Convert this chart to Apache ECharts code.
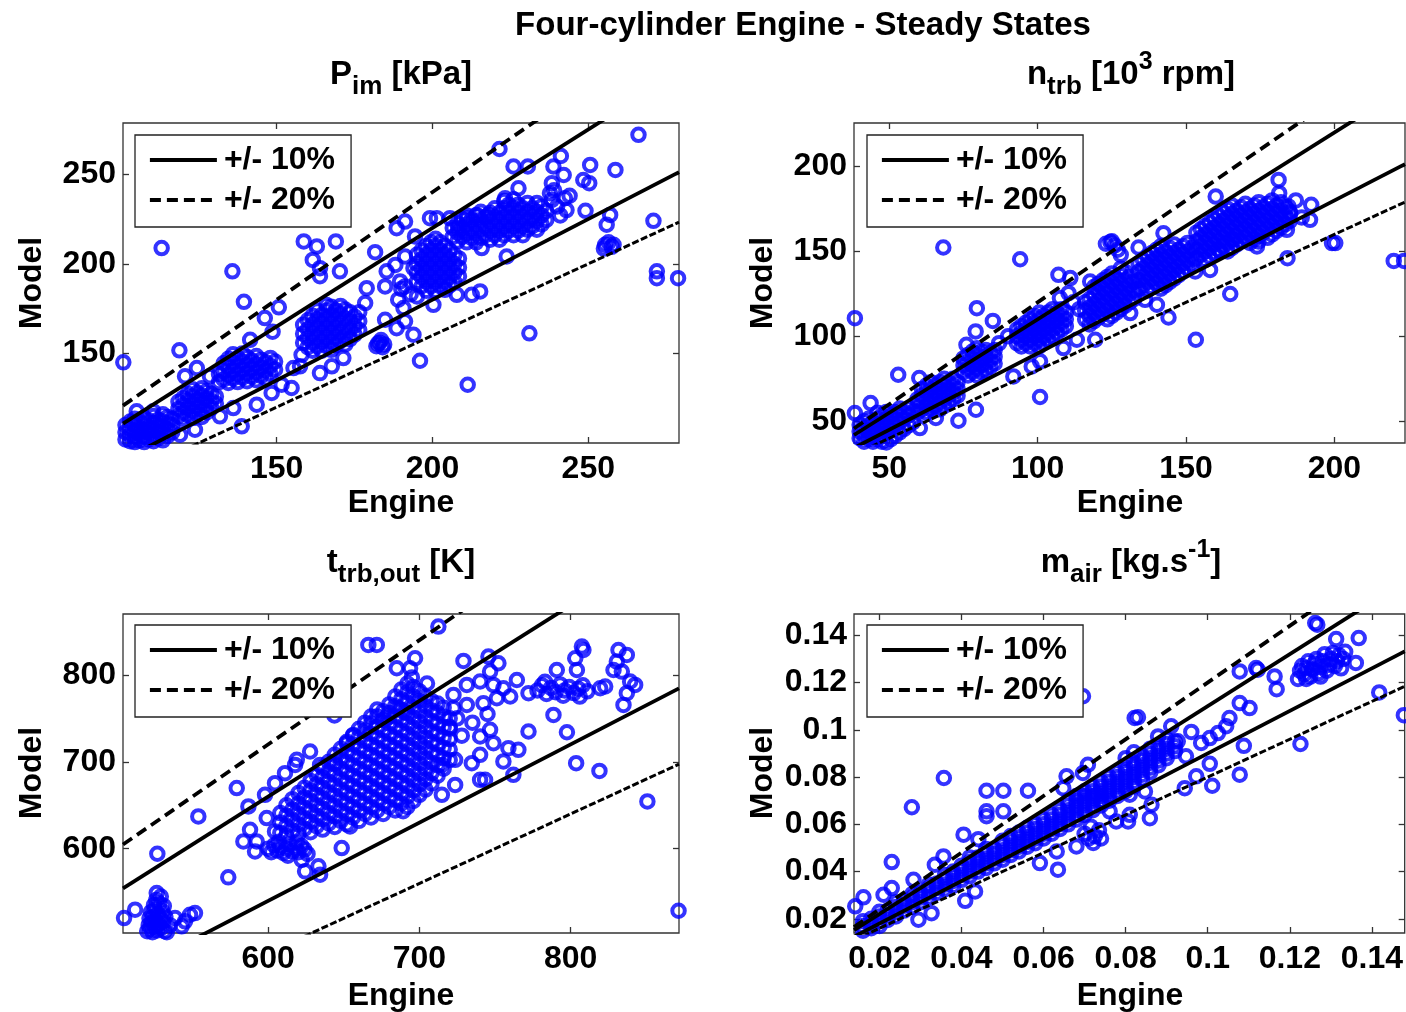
<!DOCTYPE html>
<html>
<head>
<meta charset="utf-8">
<script src="https://cdn.jsdelivr.net/npm/echarts@6/dist/echarts.min.js"></script>
<style>
  html, body { margin: 0; padding: 0; background: #fff; }
  #chart { width: 1406px; height: 1012px; }
</style>
</head>
<body>
<div id="chart"></div>
<script>
const FONT = '"Liberation Sans", Arial, Helvetica, sans-serif';

// ---------- P_im [kPa] ----------
const pimRangeX = [100.7, 279.1];
const pimRangeY = [100, 278.6];
const pimTicks = [150, 200, 250];
// dense groups, written as [engine, [model values...]]
const pimColumns = [
  [101.5, [102, 106, 110]], [103, [101, 104.5, 108, 112]], [104.5, [100.5, 103, 106.5, 110, 113.5]],
  [106, [101.5, 105, 108.5, 112]], [107.5, [100.5, 103.5, 107, 110.5, 114]], [109, [102, 105.5, 109, 112.5]],
  [110.5, [101, 104, 107.5, 111, 115]], [112, [102.5, 106, 109.5, 113]], [113.5, [101.5, 105, 108.5, 112, 116]],
  [115, [104, 107.5, 111, 114.5]], [116.5, [106, 110, 113.5]],
  [118.5, [115, 119, 123]], [120, [113.5, 117, 121, 125]], [121.5, [115.5, 119.5, 123.5, 127.5]],
  [123, [114, 118, 122, 126, 130]], [124.5, [116, 120, 124, 128]], [126, [114.5, 118.5, 122.5, 126.5, 130.5]],
  [127.5, [117, 121, 125, 129]], [129, [119.5, 123.5, 127.5]], [130.5, [122, 126]],
  [131.5, [134, 138.5]], [133, [135.5, 140, 144.5]], [134.5, [133.5, 138, 142.5, 147]],
  [136, [136, 140.5, 145, 149.5]], [137.5, [134, 138.5, 143, 147.5]], [139, [136.5, 141, 145.5, 150]],
  [140.5, [134.5, 139, 143.5, 148]], [142, [137, 141.5, 146]], [143.5, [135, 139.5, 144, 148.5]],
  [145, [137.5, 142, 146.5]], [146.5, [136, 140.5, 145]], [148, [138.5, 143, 147.5]], [149.5, [141, 145.5]],
  [158.5, [156, 161, 166]], [160, [153.5, 158.5, 163.5, 168.5]], [161.5, [151.5, 156, 161, 166, 171]],
  [163, [154, 159, 164, 169, 174]], [164.5, [151.5, 156.5, 161.5, 166.5, 171.5]], [166, [154, 159, 164, 169, 174, 177]],
  [167.5, [152, 156.5, 161.5, 166.5, 171.5, 176]], [169, [154.5, 159, 164, 169, 174]], [170.5, [157, 162, 167, 172, 176.5]],
  [172, [155, 159.5, 164.5, 169.5, 174.5]], [173.5, [158, 163, 168, 173]], [175, [160.5, 165.5, 170.5]], [176.5, [163, 168, 173]],
  [195, [190, 195, 200, 205]], [196.5, [187.5, 192.5, 197.5, 202.5, 207.5]], [198, [185, 190, 195, 200, 205, 210]],
  [199.5, [187.5, 192.5, 197.5, 202.5, 207.5, 212]], [201, [185, 190, 195, 200, 205, 210, 214]],
  [202.5, [187.5, 192.5, 197.5, 202.5, 207.5, 212]], [204, [185.5, 190, 195, 200, 205, 210]],
  [205.5, [188, 192.5, 197.5, 202.5, 207.5]], [207, [190, 195, 200, 205]], [208.5, [193, 198, 203]],
  [206.5, [215, 220]], [208, [212.5, 217.5, 222.5]], [209.5, [215, 220, 225]], [211, [212, 217, 222, 227]],
  [212.5, [214.5, 219.5, 224.5]], [214, [212, 217, 222, 227]], [215.5, [214.5, 219.5, 224.5, 229]],
  [217, [216, 221, 226]], [218.5, [213.5, 218.5, 223.5, 228.5]], [220, [216, 221, 226, 231]],
  [221.5, [213.5, 218.5, 223.5, 228.5]], [223, [216, 221, 226, 231, 235]], [224.5, [218.5, 223.5, 228.5, 233]],
  [226, [216, 221, 226, 231, 236]], [227.5, [218.5, 223.5, 228.5, 233]], [229, [216, 221, 226, 231]],
  [230.5, [219, 224, 229, 234]], [232, [221, 226, 231]], [233.5, [219, 224, 229, 234]],
  [235, [222, 227, 232]], [236.5, [224.5, 229.5]]
];
const pimPoints = [
  [100.8, 145], [113.1, 208.8], [135.8, 195.8], [139.5, 178.8], [118.8, 151.7], [146.2, 169.7], [150.7, 175.7],
  [148.7, 162.1], [141.5, 157.6], [105.1, 117.7], [110.4, 117.7], [119, 104.6], [123.8, 107.4],
  [131.8, 114.9], [136.1, 119.5], [138.8, 109.3], [143.6, 121.4], [148.4, 127.9], [154.8, 130.7], [151.6, 132.5],
  [155.4, 141.8], [120.6, 137.2], [124.4, 141.8], [128.6, 137.2],
  [158.7, 212.5], [162.9, 209.7], [169, 212.5], [161.6, 202.2], [163.9, 197.6], [163.9, 193.1], [170.3, 195.8],
  [181.6, 206.5], [178.9, 186.4], [178.4, 178.1], [185.3, 195.8], [184.8, 187.4], [188.1, 199.4], [189.6, 190.2],
  [188.5, 219.9], [158, 149.2], [157.5, 142.8], [163.9, 139], [167.7, 142.8], [171.4, 147.4], [184.8, 168.8],
  [188.5, 164.1], [182, 154], [183, 156], [184, 153.5], [183.5, 157.5], [182.5, 155.5], [184.5, 155],
  [189, 180], [190, 186], [193, 183], [191.2, 167.9], [193.9, 160.4], [196, 145.9], [211.3, 132.5],
  [199.2, 225.5], [201.4, 225.5], [205.6, 225.5], [208.3, 219.9], [211, 225.5], [214.2, 227.3], [218, 227.3],
  [191.2, 223.6], [194.4, 215.3], [207.8, 182.7], [212.6, 182.7], [215.3, 184.6], [200.3, 177.1], [195, 181.8],
  [215.8, 208.8], [223.8, 204.1], [231.1, 161.2], [191.2, 204.1], [193.9, 197.6], [191.2, 187.4], [190.7, 175.3],
  [221.5, 264.1], [226, 254.3], [230.6, 254.3], [241.2, 260.2], [238.8, 254.3], [242.1, 249.6], [250.6, 255.2],
  [258.7, 252.4], [266.1, 272], [248.4, 246.8], [250.3, 245], [238.3, 245], [237.7, 239.4], [242.5, 236.6],
  [238.3, 235.7], [227.6, 242.2], [223.3, 236.6], [249.1, 229.6], [257, 227.3], [255.9, 221.8], [255.4, 210.6],
  [258.1, 210.6], [256.5, 212], [257.5, 209.5], [255, 208.5], [270.9, 224], [272, 195.8], [272, 192],
  [278.8, 192], [240, 232], [243, 230], [241, 227], [244, 238], [239, 241]
];

// ---------- n_trb [10^3 rpm] ----------
const ntrbRangeX = [38.1, 223.8];
const ntrbRangeY = [37.2, 225.6];
const ntrbTicks = [50, 100, 150, 200];
const ntrbColumns = [
  [40, [40, 44, 48]], [41.5, [38, 42, 46, 50]], [43, [39.5, 43.5, 47.5, 51.5]], [44.5, [38, 41.5, 45.5, 49.5]],
  [46, [39.5, 43.5, 47.5, 51.5, 55]], [47.5, [38, 41.5, 45.5, 49.5, 53.5]], [49, [37.5, 43.5, 47.5, 51.5, 55.5]],
  [50.5, [39.5, 45.5, 49.5, 53.5]], [52, [41.5, 47.5, 51.5, 55.5]], [53.5, [43.5, 49.5, 53.5, 57.5]],
  [55, [45.5, 51.5, 55.5]], [56.5, [47.5, 53.5, 57.5]], [58, [49.5, 55.5]],
  [59.5, [55, 59, 63]], [61, [57, 61, 65, 69]], [62.5, [55, 59, 63, 67, 71]], [64, [57, 61, 65, 69, 73]],
  [65.5, [59, 63, 67, 71]], [67, [57, 61, 65, 69, 73]], [68.5, [59, 63, 67, 71, 75]], [70, [61, 65, 69, 73]],
  [71.5, [63, 67, 71, 75]], [73, [65, 69, 73]],
  [75, [79, 83, 87]], [76.5, [77, 81, 85, 89]], [78, [79, 83, 87, 91]], [79.5, [77, 81, 85, 89, 93]],
  [81, [79, 83, 87, 91]], [82.5, [80, 84, 88, 92]], [84, [82, 86, 90]], [85.5, [84, 88, 92]],
  [93, [96, 100, 104]], [94.5, [94, 98, 102, 106]], [96, [96, 100, 104, 108]], [97.5, [94, 98, 102, 106, 110]],
  [99, [96, 100, 104, 108, 112]], [100.5, [94, 98, 102, 106, 110, 114]], [102, [96, 100, 104, 108, 112]],
  [103.5, [98, 102, 106, 110, 114]], [105, [100, 104, 108, 112, 116]], [106.5, [102, 106, 110, 114]],
  [108, [104, 108, 112, 116]], [109.5, [106, 110, 114]],
  [116, [110, 115, 120]], [117.5, [107, 112, 117, 122]], [119, [109, 114, 119, 124, 129]],
  [120.5, [111, 116, 121, 126, 131]], [122, [113, 118, 123, 128, 133]], [123.5, [110, 115, 120, 125, 130, 135]],
  [125, [112, 117, 122, 127, 132, 137]], [126.5, [114, 119, 124, 129, 134]], [128, [116, 121, 126, 131, 136, 140]],
  [129.5, [118, 123, 128, 133, 138]], [131, [120, 125, 130, 135]], [132.5, [122, 127, 132]],
  [134, [128, 133, 138, 143]], [135.5, [130, 135, 140, 145]], [137, [127, 132, 137, 142, 147]],
  [138.5, [129, 134, 139, 144, 149]], [140, [131, 136, 141, 146, 151]], [141.5, [128, 133, 138, 143, 148, 153]],
  [143, [130, 135, 140, 145, 150]], [144.5, [132, 137, 142, 147, 152]], [146, [134, 139, 144, 149, 154]],
  [147.5, [136, 141, 146, 151]], [149, [138, 143, 148, 153]], [150.5, [140, 145, 150, 155]], [152, [142, 147, 152]],
  [153.5, [146, 151, 156, 161]], [155, [148, 153, 158, 163]], [156.5, [145, 150, 155, 160, 165]],
  [158, [147, 152, 157, 162, 167]], [159.5, [149, 154, 159, 164, 169]], [161, [151, 156, 161, 166, 171]],
  [162.5, [153, 158, 163, 168, 173]], [164, [150, 155, 160, 165, 170, 175]], [165.5, [152, 157, 162, 167, 172, 177]],
  [167, [154, 159, 164, 169, 174]], [168.5, [156, 161, 166, 171, 176]], [170, [158, 163, 168, 173, 178]],
  [171.5, [155, 160, 165, 170, 175]], [173, [157, 162, 167, 172, 177]], [174.5, [159, 164, 169, 174, 179]],
  [176, [161, 166, 171, 176]], [177.5, [158, 163, 168, 173, 178]], [179, [160, 165, 170, 175, 180]],
  [180.5, [162, 167, 172, 177]], [182, [164, 169, 174, 179]], [183.5, [166, 171, 176]], [185, [168, 173]]
];
const ntrbPoints = [
  [38.4, 110.7], [68.2, 152.3], [94.1, 145.4], [38.4, 54.8], [43.7, 60.7], [53, 77.4], [60.1, 75.4],
  [73.3, 50.3], [79.2, 56.8], [79.5, 116.6], [84.9, 109.1], [79.1, 102.9], [100.8, 64.3], [91.8, 76.4],
  [98, 82.3], [100.8, 85.3], [108.7, 93.1], [113.2, 98], [119.4, 98], [107, 136.2], [111, 134.3],
  [107.5, 122.5], [110.4, 125.4], [117.7, 132.3], [65.7, 51.9], [60.3, 46], [76, 95], [87, 96], [90, 100],
  [112, 120], [114, 116], [123, 154.5], [124.5, 155.5], [126, 153.5], [125, 156], [127, 151], [128, 148],
  [131.2, 113.7], [136.2, 121.5], [140.2, 118.6], [144.1, 111.1], [153.3, 98], [134, 152.3], [142.4, 160.7],
  [181.2, 192.1], [181.4, 184.3], [160, 182.3], [192.2, 177.4], [191.8, 168.6], [199.2, 154.9], [200.3, 154.9],
  [220, 144.4], [223.5, 144.4], [184.2, 146], [184, 162.7], [164.9, 124.9], [173.9, 152.9], [174.4, 155.9],
  [153.1, 138.2], [158.1, 139.1], [161.5, 150], [166, 156.8], [184.5, 176.5], [185.1, 172.5], [189, 170], [187, 180]
];

// ---------- t_trb,out [K] ----------
const ttrbRangeX = [504, 871.6];
const ttrbRangeY = [503, 870];
const ttrbTicks = [600, 700, 800];
const ttrbColumns = [
  [520, [505]], [521, [512]], [521.5, [520]], [522, [508]], [522.5, [527]], [523, [515]], [523.5, [504]],
  [524, [522]], [524.5, [535]], [525, [510, 530]], [525.5, [518]], [526, [541]], [526.3, [549]], [526.5, [506]],
  [527, [525]], [527.5, [513]], [528, [537]], [528.5, [520]], [529, [545]], [529.5, [509]], [530, [528]],
  [530.5, [516]], [531, [534]], [531.5, [505]], [532, [522]],
  [600, [600]], [602, [596]], [604, [604]], [606, [598]], [608, [602, 618, 630, 641]], [610, [595]],
  [612, [600, 615, 626, 638, 650]], [614, [605]], [616, [597, 621, 633, 645, 657]], [618, [601]],
  [620, [596, 617, 628, 640, 652, 664]], [622, [603]], [624, [599, 623, 635, 647, 659, 670]], [626, [594]],
  [628, [619, 631, 643, 655, 667, 678]], [632, [626, 638, 650, 662, 674, 685]],
  [636, [622, 634, 646, 658, 670, 682, 693]], [640, [629, 641, 653, 665, 677, 689, 700]],
  [644, [625, 637, 649, 661, 673, 685, 697, 708]], [648, [632, 644, 656, 668, 680, 692, 704, 715]],
  [652, [628, 640, 652, 664, 676, 688, 700, 712, 723]], [656, [636, 648, 660, 672, 684, 696, 708, 720, 730]],
  [660, [632, 644, 656, 668, 680, 692, 704, 716, 728, 738]], [664, [640, 652, 664, 676, 688, 700, 712, 724, 736, 745]],
  [668, [636, 648, 660, 672, 684, 696, 708, 720, 732, 744, 752]],
  [672, [644, 656, 668, 680, 692, 704, 716, 728, 740, 752, 760]],
  [676, [640, 652, 664, 676, 688, 700, 712, 724, 736, 748, 758]],
  [680, [648, 660, 672, 684, 696, 708, 720, 732, 744, 756, 766]],
  [684, [644, 656, 668, 680, 692, 704, 716, 728, 740, 752, 764, 775]],
  [688, [652, 664, 676, 688, 700, 712, 724, 736, 748, 760, 772, 783]],
  [692, [648, 660, 672, 684, 696, 708, 720, 732, 744, 756, 768, 780, 790]],
  [696, [655, 667, 679, 691, 703, 715, 727, 739, 751, 763, 775, 786]],
  [700, [662, 674, 686, 698, 710, 722, 734, 746, 758, 770, 781]],
  [704, [668, 680, 692, 704, 716, 728, 740, 752, 764, 775]],
  [708, [675, 687, 699, 711, 723, 735, 747, 759, 770]],
  [712, [684, 696, 708, 720, 732, 744, 756, 767]],
  [716, [692, 704, 716, 728, 740, 752, 762]], [720, [702, 714, 726, 738, 750]],
  [778, [782]], [781, [788]], [784, [778]], [787, [785]], [790, [780]], [793, [789]], [796, [782]],
  [799, [786]], [802, [779]], [805, [784]], [808, [788]], [811, [781]], [783, [792]], [795, [776]], [806, [775]]
];
const ttrbPoints = [
  [526.7, 594.2], [504.7, 520.2], [512, 529.8], [538.4, 520.2], [548.3, 524], [551.6, 525.9], [542.8, 510.7],
  [545, 516.4], [535, 512], [533, 504], [553.8, 637.1], [573.6, 567], [579.2, 669.7], [586.9, 648.6],
  [583.6, 608.4], [588, 621.7], [592.4, 608.4], [591.3, 596.9], [599, 635.2], [604.5, 619.9], [597.9, 662],
  [604.5, 675.4], [611.1, 686.9], [617.8, 696.4], [618.9, 702.2], [627.7, 711.8], [634.3, 696.4], [644.2, 698.4],
  [651.9, 721.4], [656.3, 730.9], [622.2, 587.2], [624.4, 573.9], [633.2, 579.7], [634.3, 570], [654.1, 625.6],
  [648.6, 600.7], [643.8, 753.2], [666.2, 834.4], [671.8, 834.4], [685, 807.6], [678.4, 750.1], [686.1, 761.6],
  [607, 608], [613, 592], [619, 607],
  [722.5, 776.9], [731.3, 788.4], [740.1, 792.3], [748.9, 788.4], [755.5, 784.6], [764.4, 794.1], [772.1, 778.9],
  [760, 775.1], [751.2, 773.1], [742.3, 767.4], [731.3, 765.4], [722.5, 761.6],
  [712.5, 855.5], [697.1, 819.1], [693.8, 807.6], [729.1, 816], [745.6, 821], [752.2, 813.3], [746.7, 803.8],
  [807.4, 832.5], [808.4, 828.6], [803, 819.1], [804.1, 805.6], [831.6, 828.6], [837.1, 822.9], [830.5, 815.3],
  [828.3, 805.6], [833.8, 803.8], [839.3, 792.3], [842.6, 788.4], [837.1, 778.9], [834.9, 765.4], [819.5, 784.6],
  [822.8, 786.6], [790.8, 805.6], [788.6, 753.9], [797.5, 734], [803.6, 698.4], [819, 689.5], [850.7, 654.4],
  [871.3, 528.6], [746.7, 736.7], [748.9, 721.4], [740.1, 729.1], [740.1, 708], [734.6, 698.4], [723.6, 702.2],
  [714.8, 696.4], [723.6, 673.4], [714.8, 662], [758.8, 715.6], [765.4, 713.7], [755.5, 700.4], [762.1, 685],
  [740.1, 679.2], [743.4, 679.2], [772.1, 734.8], [689.2, 643.2],
  [725, 750], [735, 745], [745, 755], [720, 740], [728, 730], [690, 757], [695, 797], [705, 790]
];

// ---------- m_air [kg.s^-1] ----------
const mairRangeX = [0.0138, 0.148];
const mairRangeY = [0.0140, 0.149];
const mairTicks = [0.02, 0.04, 0.06, 0.08, 0.1, 0.12, 0.14];
const mairColumns = [
  [0.016, [0.0150, 0.0170, 0.0190]], [0.018, [0.0160, 0.0180, 0.0200]], [0.020, [0.0170, 0.0190, 0.0210, 0.0230]],
  [0.022, [0.0195, 0.0215, 0.0235]], [0.024, [0.0210, 0.0230, 0.0250, 0.0270]], [0.026, [0.0235, 0.0255, 0.0275]],
  [0.028, [0.0250, 0.0270, 0.0290, 0.0305]], [0.030, [0.0270, 0.0290, 0.0310]],
  [0.032, [0.0290, 0.0310, 0.0330, 0.0345]], [0.034, [0.0310, 0.0330, 0.0350]],
  [0.036, [0.0325, 0.0345, 0.0365, 0.0385]], [0.038, [0.0340, 0.0360, 0.0380, 0.0400]],
  [0.040, [0.0365, 0.0385, 0.0405, 0.0425]], [0.042, [0.0380, 0.0400, 0.0420, 0.0440, 0.0460]],
  [0.044, [0.0400, 0.0420, 0.0440, 0.0460]], [0.046, [0.0415, 0.0435, 0.0455, 0.0475, 0.0495]],
  [0.048, [0.0435, 0.0455, 0.0475, 0.0495]], [0.050, [0.0450, 0.0470, 0.0490, 0.0510, 0.0530]],
  [0.052, [0.0470, 0.0490, 0.0510, 0.0530, 0.0550]], [0.054, [0.0485, 0.0505, 0.0525, 0.0545, 0.0565]],
  [0.056, [0.0505, 0.0525, 0.0545, 0.0565, 0.0585]], [0.058, [0.0520, 0.0540, 0.0560, 0.0580, 0.0600]],
  [0.060, [0.0540, 0.0560, 0.0580, 0.0600, 0.0620]], [0.062, [0.0560, 0.0580, 0.0600, 0.0620, 0.0640]],
  [0.064, [0.0580, 0.0600, 0.0620, 0.0640, 0.0660]], [0.066, [0.0600, 0.0620, 0.0640, 0.0660, 0.0680, 0.0700]],
  [0.068, [0.0620, 0.0640, 0.0660, 0.0680, 0.0700, 0.0720]], [0.070, [0.0640, 0.0660, 0.0680, 0.0700, 0.0720, 0.0740]],
  [0.072, [0.0660, 0.0680, 0.0700, 0.0720, 0.0740, 0.0760]], [0.074, [0.0680, 0.0700, 0.0720, 0.0740, 0.0760, 0.0780]],
  [0.076, [0.0700, 0.0720, 0.0740, 0.0760, 0.0780, 0.0800]], [0.078, [0.0720, 0.0740, 0.0760, 0.0780, 0.0800, 0.0820]],
  [0.080, [0.0740, 0.0760, 0.0780, 0.0800, 0.0820, 0.0840, 0.0880]], [0.082, [0.0760, 0.0780, 0.0800, 0.0820, 0.0840, 0.0860, 0.0905]],
  [0.084, [0.0790, 0.0810, 0.0830, 0.0850, 0.0870, 0.0890]], [0.086, [0.0820, 0.0840, 0.0860, 0.0880, 0.0900, 0.0920]],
  [0.088, [0.0850, 0.0870, 0.0890, 0.0910, 0.0930]], [0.090, [0.0880, 0.0900, 0.0920, 0.0940, 0.0960]],
  [0.092, [0.0910, 0.0930, 0.0950]],
  [0.0700, [0.0560]], [0.0710, [0.0540]], [0.0725, [0.0550]], [0.0735, [0.0575]], [0.0740, [0.0540]], [0.0715, [0.0590]],
  [0.1220, [0.1215]], [0.1225, [0.1250]], [0.1230, [0.1270]], [0.1235, [0.1235]], [0.1240, [0.1260, 0.1215]],
  [0.1245, [0.1290]], [0.1250, [0.1225]], [0.1255, [0.1255]], [0.1260, [0.1280]], [0.1265, [0.1300]],
  [0.1270, [0.1240]], [0.1275, [0.1265, 0.1225]], [0.1280, [0.1290]], [0.1285, [0.1320]], [0.1290, [0.1250]],
  [0.1295, [0.1275]], [0.1300, [0.1300]], [0.1305, [0.1325]], [0.1310, [0.1270]], [0.1315, [0.1290]],
  [0.1320, [0.1315]], [0.1325, [0.1260]], [0.1330, [0.1300]], [0.1335, [0.1330]]
];
const mairPoints = [
  [0.0696, 0.1142], [0.0822, 0.1050], [0.0357, 0.0796], [0.0279, 0.0672], [0.0230, 0.0440], [0.0141, 0.0253],
  [0.0161, 0.0291], [0.0461, 0.0742], [0.0502, 0.0742], [0.0562, 0.0742], [0.0461, 0.0655], [0.0461, 0.0634],
  [0.0502, 0.0655], [0.0405, 0.0556], [0.0441, 0.0537], [0.0335, 0.0429], [0.0356, 0.0464], [0.0283, 0.0365],
  [0.0230, 0.0330], [0.0210, 0.0302], [0.0409, 0.0276], [0.0433, 0.0316], [0.0295, 0.0196], [0.0327, 0.0224],
  [0.0635, 0.0408], [0.0591, 0.0436], [0.0632, 0.0485], [0.0680, 0.0506], [0.0721, 0.0521], [0.0777, 0.0612],
  [0.0761, 0.0655], [0.0810, 0.0640], [0.0656, 0.0803], [0.0696, 0.0817], [0.0708, 0.0852], [0.0648, 0.0753],
  [0.0689, 0.0725], [0.0729, 0.0725], [0.0745, 0.0697],
  [0.1262, 0.1452], [0.1267, 0.1445], [0.1313, 0.1384], [0.1368, 0.1388], [0.1361, 0.1283], [0.1078, 0.1247],
  [0.1118, 0.1261], [0.1122, 0.1254], [0.1163, 0.1226], [0.1168, 0.1172], [0.1078, 0.1113], [0.1102, 0.1092],
  [0.1418, 0.1158], [0.1478, 0.1062], [0.1226, 0.0940], [0.1088, 0.0932], [0.1078, 0.0810], [0.1011, 0.0763],
  [0.1005, 0.0856], [0.0972, 0.0803], [0.0944, 0.0753], [0.1053, 0.1050], [0.1045, 0.1015], [0.1025, 0.0986],
  [0.1005, 0.0965], [0.0984, 0.0944], [0.0960, 0.0991], [0.0927, 0.0951], [0.0947, 0.0888], [0.0911, 0.1015],
  [0.0879, 0.0972], [0.0830, 0.1053], [0.0859, 0.0626], [0.0863, 0.0683], [0.0847, 0.0739], [0.0810, 0.0725],
  [0.0806, 0.0612]
];

// tolerance bands drawn as Model = k * Engine
const tenPercent = [1.1, 0.9];
const twentyPercent = [1.2, 0.8];

// ---------- layout ----------
const panels = [
  { cols: pimColumns, pts: pimPoints, rx: pimRangeX, ry: pimRangeY, tx: pimTicks, ty: pimTicks,
    grid: { left: 123, top: 123, width: 556, height: 320 }, legend: [135, 135],
    title: [[ 'P', 'm' ], [ 'im', 'sub' ], [ ' [kPa]', 'm' ]], tpos: [401, 75], model: [32, 283], engine: [401, 503] },
  { cols: ntrbColumns, pts: ntrbPoints, rx: ntrbRangeX, ry: ntrbRangeY, tx: ntrbTicks, ty: ntrbTicks,
    grid: { left: 854, top: 123, width: 551, height: 320 }, legend: [867, 135],
    title: [[ 'n', 'm' ], [ 'trb', 'sub' ], [ ' [10', 'm' ], [ '3', 'sup' ], [ ' rpm]', 'm' ]], tpos: [1131, 75], model: [763, 283], engine: [1130, 503] },
  { cols: ttrbColumns, pts: ttrbPoints, rx: ttrbRangeX, ry: ttrbRangeY, tx: ttrbTicks, ty: ttrbTicks,
    grid: { left: 123, top: 614, width: 556, height: 319 }, legend: [135, 625],
    title: [[ 't', 'm' ], [ 'trb,out', 'sub' ], [ ' [K]', 'm' ]], tpos: [401, 563], model: [32, 773], engine: [401, 996] },
  { cols: mairColumns, pts: mairPoints, rx: mairRangeX, ry: mairRangeY, tx: mairTicks, ty: mairTicks,
    grid: { left: 854, top: 614, width: 551, height: 319 }, legend: [867, 625],
    title: [[ 'm', 'm' ], [ 'air', 'sub' ], [ ' [kg.s', 'm' ], [ '-1', 'sup' ], [ ']', 'm' ]], tpos: [1131, 563], model: [763, 773], engine: [1130, 996] }
];

const AXIS_COLOR = '#333';
const labelStyle = { color: '#000', fontSize: 32, fontWeight: 'bold', fontFamily: FONT };

function flatten(cols, pts) {
  const out = [];
  cols.forEach(([x, ys]) => ys.forEach(y => out.push([x, y])));
  return out.concat(pts);
}
function bandLine(range, k) {
  return [[range[0], k * range[0]], [range[1], k * range[1]]];
}

const meas = document.createElement('canvas').getContext('2d');
const TSIZE = { m: 33, sub: 26, sup: 25 };
const TSHIFT = { m: 0, sub: 12, sup: -13 };
function textWidth(t, size) {
  meas.font = 'bold ' + size + 'px ' + FONT;
  return meas.measureText(t).width;
}
function titleParts(parts, cx, cy) {
  const total = parts.reduce((s, [t, k]) => s + textWidth(t, TSIZE[k]), 0);
  let x = cx - total / 2;
  return parts.map(([t, k]) => {
    const el = { type: 'text', x: x, y: cy + TSHIFT[k], silent: true,
      style: { text: t, fontSize: TSIZE[k], fontWeight: 'bold', fontFamily: FONT, fill: '#000', align: 'left', verticalAlign: 'middle' } };
    x += textWidth(t, TSIZE[k]);
    return el;
  });
}
function plainText(t, x, y, size, rot) {
  return { type: 'text', x: x, y: y, rotation: rot || 0, silent: true,
    style: { text: t, fontSize: size, fontWeight: 'bold', fontFamily: FONT, fill: '#000', align: 'center', verticalAlign: 'middle' } };
}

const grids = [], xAxes = [], yAxes = [], series = [], legends = [];
let graphics = [plainText('Four-cylinder Engine - Steady States', 803, 26, 33)];

panels.forEach((p, i) => {
  grids.push(Object.assign({ show: true, borderColor: AXIS_COLOR, borderWidth: 1.3, backgroundColor: 'transparent' }, p.grid));
  const tickStyle = { inside: true, length: 6, lineStyle: { color: AXIS_COLOR, width: 1.3 } };
  ['bottom', 'top'].forEach((pos, j) => {
    xAxes.push({ type: 'value', gridIndex: i, position: pos, min: p.rx[0], max: p.rx[1],
      axisLine: { show: false }, splitLine: { show: false },
      axisTick: Object.assign({ customValues: p.tx }, tickStyle),
      axisLabel: Object.assign({ show: j === 0, customValues: p.tx, margin: 10, formatter: v => String(v) }, labelStyle) });
  });
  ['left', 'right'].forEach((pos, j) => {
    yAxes.push({ type: 'value', gridIndex: i, position: pos, min: p.ry[0], max: p.ry[1],
      axisLine: { show: false }, splitLine: { show: false },
      axisTick: Object.assign({ customValues: p.ty }, tickStyle),
      axisLabel: Object.assign({ show: j === 0, customValues: p.ty, margin: 7, formatter: v => String(v) }, labelStyle) });
  });
  const xi = 2 * i, yi = 2 * i;
  series.push({ type: 'scatter', xAxisIndex: xi, yAxisIndex: yi, data: flatten(p.cols, p.pts),
    symbol: 'circle', symbolSize: 12.5, silent: true, z: 2,
    itemStyle: { color: 'rgba(0,0,0,0)', borderColor: '#0000ff', borderWidth: 4 } });
  tenPercent.forEach(k => series.push({ type: 'line', name: '+/- 10%', xAxisIndex: xi, yAxisIndex: yi,
    data: bandLine(p.rx, k), symbol: 'none', silent: true, z: 3,
    lineStyle: { color: '#000', width: 3.8, type: 'solid' } }));
  twentyPercent.forEach((k, j) => series.push({ type: 'line', name: '+/- 20%', xAxisIndex: xi, yAxisIndex: yi,
    data: bandLine(p.rx, k), symbol: 'none', silent: true, z: 3,
    lineStyle: { color: '#000', width: j === 0 ? 3.8 : 3, type: j === 0 ? [11, 6] : [7, 2.5] } }));
  legends.push({ data: ['+/- 10%', '+/- 20%'], orient: 'vertical', left: p.legend[0], top: p.legend[1],
    itemWidth: 67, itemHeight: 12, itemGap: 8, padding: [9, 16, 11, 13], selectedMode: false,
    backgroundColor: '#fff', borderColor: '#222', borderWidth: 1.3, borderRadius: 0,
    itemStyle: { opacity: 0 }, lineStyle: { width: 3.8 },
    textStyle: { color: '#000', fontSize: 32, fontWeight: 'bold', fontFamily: FONT, padding: [0, 0, 0, 2] } });
  graphics = graphics.concat(titleParts(p.title, p.tpos[0], p.tpos[1]));
  graphics.push(plainText('Model', p.model[0], p.model[1], 32, Math.PI / 2));
  graphics.push(plainText('Engine', p.engine[0], p.engine[1], 32));
});

const chart = echarts.init(document.getElementById('chart'), null, { renderer: 'canvas' });
chart.setOption({
  animation: false,
  backgroundColor: '#fff',
  grid: grids, xAxis: xAxes, yAxis: yAxes, series: series, legend: legends,
  graphic: { elements: graphics }
});
</script>
</body>
</html>
